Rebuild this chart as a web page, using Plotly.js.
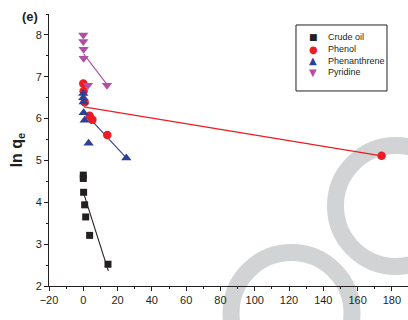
<!DOCTYPE html>
<html>
<head>
<meta charset="utf-8">
<script src="https://cdn.plot.ly/plotly-3.0.1.min.js"></script>
<style>html,body{margin:0;padding:0;background:#fff;}#chart{width:408px;height:320px;}</style>
</head>
<body>
<div id="chart"></div>
<script>
// Data
const seriesNames = ["Crude oil", "Phenol", "Phenanthrene", "Pyridine"];
const seriesGlyphs = ["\u25A0", "\u25CF", "\u25B2", "\u25BC"];

const crudeX = [0, 0, 0.2, 0.8, 1.4, 3.7, 14.4];
const crudeY = [4.65, 4.57, 4.24, 3.94, 3.65, 3.21, 2.52];

const phenolX = [0, 0.2, 0.8, 3.7, 5.3, 14.0, 174];
const phenolY = [6.84, 6.66, 6.39, 6.07, 5.97, 5.61, 5.11];

const phenanX = [0, 0, 0.2, 0.2, 0.8, 3.1, 25.1];
const phenanY = [6.60, 6.50, 6.40, 6.14, 5.96, 5.41, 5.06];

const pyridX = [0, 0, 0.2, 0.2, 2.7, 13.8];
const pyridY = [8.00, 7.84, 7.66, 7.44, 6.80, 6.80];

// Fitted line endpoints
const crudeFitX = [0.1, 14.6];
const crudeFitY = [4.23, 2.36];
const phenolFitX = [0.3, 174];
const phenolFitY = [6.28, 5.11];
const phenanFitX = [0.2, 25.1];
const phenanFitY = [6.16, 5.06];
const pyridFitX = [0.3, 13.8];
const pyridFitY = [7.54, 6.82];

const colors = ["#231f20", "#ed1c24", "#2e3f98", "#b04fa3"];

function pts(x, y, name, color, symbol, size) {
  return {x: x, y: y, name: name, type: "scatter", mode: "markers", showlegend: false,
          marker: {color: color, symbol: symbol, size: size}, cliponaxis: false};
}
function fit(x, y, color) {
  return {x: x, y: y, type: "scatter", mode: "lines", showlegend: false,
          hoverinfo: "skip", line: {color: color, width: 1.1}};
}

const data = [
  fit(crudeFitX, crudeFitY, colors[0]),
  fit(phenolFitX, phenolFitY, colors[1]),
  fit(phenanFitX, phenanFitY, colors[2]),
  fit(pyridFitX, pyridFitY, colors[3]),
  pts(crudeX, crudeY, seriesNames[0], colors[0], "square", 7),
  pts(phenolX, phenolY, seriesNames[1], colors[1], "circle", 8.5),
  pts(phenanX, phenanY, seriesNames[2], colors[2], "triangle-up", 9),
  pts(pyridX, pyridY, seriesNames[3], colors[3], "triangle-down", 9)
];

const fontFam = "Liberation Sans, Arial, sans-serif";
const axisFont = {family: fontFam, size: 11, color: "#231f20"};
const ringColor = "#d1d3d4";

// Custom compact legend (box, glyphs and labels)
const legRowsY = [0.9166, 0.8713, 0.8283, 0.7857];
const legendAnn = [];
seriesNames.forEach(function (nm, i) {
  legendAnn.push({text: seriesGlyphs[i], xref: "paper", yref: "paper", x: 0.7354, y: legRowsY[i],
    xanchor: "center", yanchor: "middle", showarrow: false,
    font: {family: "DejaVu Sans, sans-serif", size: i === 0 ? 9 : 10, color: colors[i]}});
  legendAnn.push({text: nm, xref: "paper", yref: "paper", x: 0.7716, y: legRowsY[i],
    xanchor: "left", yanchor: "middle", showarrow: false,
    font: {family: fontFam, size: 9, color: "#231f20"}});
});

const layout = {
  width: 408, height: 320,
  margin: {l: 49, r: 0, t: 14, b: 34},
  paper_bgcolor: "#fff", plot_bgcolor: "rgba(0,0,0,0)",
  font: axisFont,
  showlegend: false,
  xaxis: {range: [-20, 189.4], dtick: 20, tick0: 0, showgrid: false, zeroline: false,
          showline: true, linecolor: "#231f20", linewidth: 1,
          ticks: "outside", ticklen: 4, tickcolor: "#231f20", tickfont: axisFont,
          minor: {dtick: 10, ticks: "outside", ticklen: 2, tickcolor: "#231f20", showgrid: false}},
  yaxis: {range: [2, 8.5], dtick: 1, tick0: 0, showgrid: false, zeroline: false,
          showline: true, linecolor: "#231f20", linewidth: 1,
          ticks: "outside", ticklen: 4, tickcolor: "#231f20", tickfont: axisFont,
          minor: {dtick: 0.5, ticks: "outside", ticklen: 2, tickcolor: "#231f20", showgrid: false},
          title: {text: "<b>ln q<sub>e</sub></b>", standoff: 9,
                  font: {family: fontFam, size: 16, color: "#231f20"}}},
  annotations: [
    {text: "<b>(e)</b>", xref: "paper", yref: "paper", x: -0.053, y: 0.989,
     xanchor: "center", yanchor: "middle", showarrow: false,
     font: {family: fontFam, size: 13, color: "#231f20"}}
  ].concat(legendAnn),
  shapes: [
    {type: "circle", xref: "paper", yref: "paper", x0: 0.798, x1: 1.135, y0: 0.072, y1: 0.5165,
     line: {color: ringColor, width: 17}, fillcolor: "rgba(0,0,0,0)", layer: "below"},
    {type: "circle", xref: "paper", yref: "paper", x0: 0.507, x1: 0.844, y0: -0.322, y1: 0.123,
     line: {color: ringColor, width: 17}, fillcolor: "rgba(0,0,0,0)", layer: "below"},
    {type: "rect", xref: "paper", yref: "paper", x0: 0.688, x1: 0.9415, y0: 0.717, y1: 0.9596,
     line: {color: "#231f20", width: 1}, fillcolor: "rgba(255,255,255,0)", layer: "above"}
  ]
};

Plotly.newPlot("chart", data, layout, {staticPlot: true, displayModeBar: false});
</script>
</body>
</html>
